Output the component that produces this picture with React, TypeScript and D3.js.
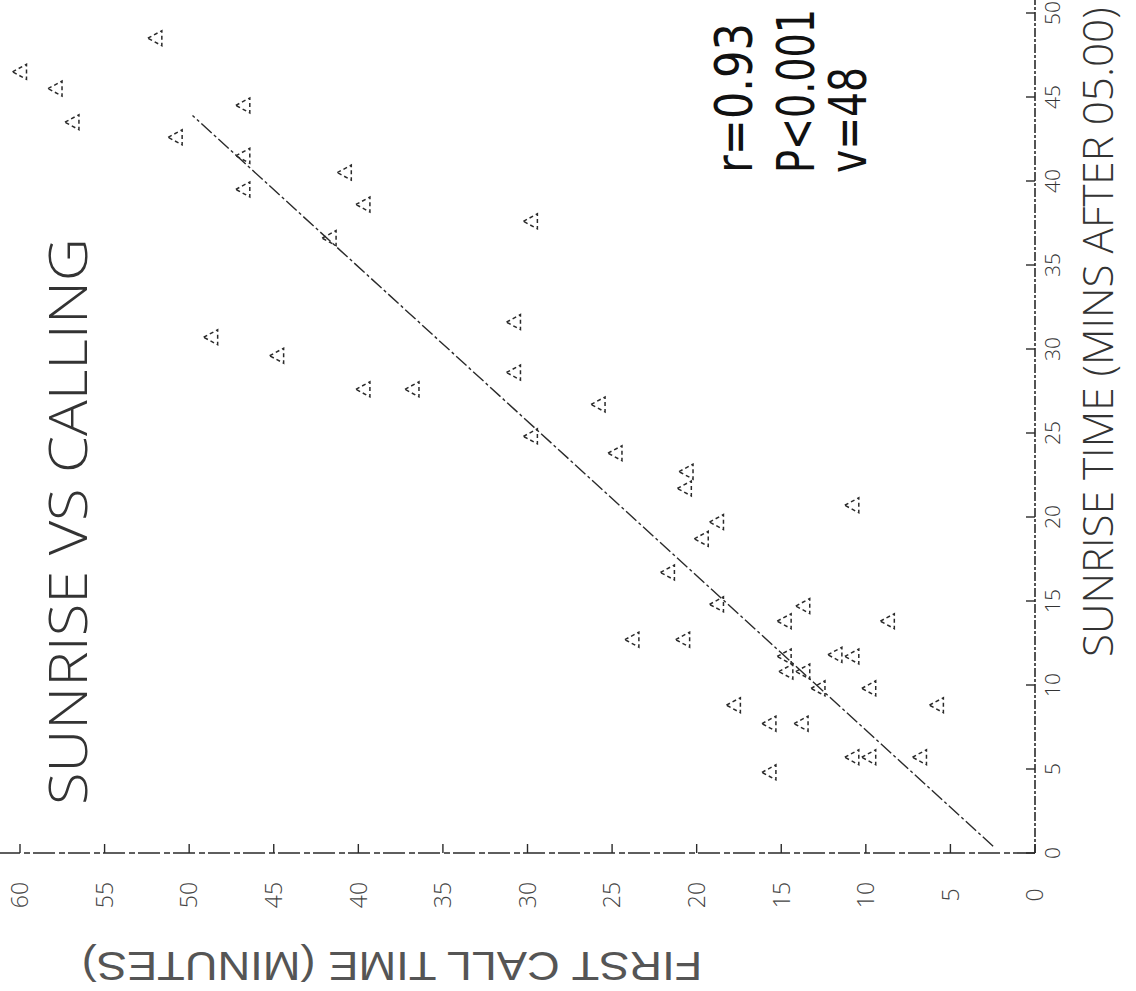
import React, { useLayoutEffect, useRef, useState } from 'react';
import * as d3 from 'd3';

// Sunrise time (mins after 05.00) and first call time (minutes)
const sunriseMins = [48.5, 46.5, 45.5, 43.5, 44.5, 42.6, 41.5, 39.5, 40.5, 38.6, 36.6, 37.6, 31.6, 28.6, 27.6, 27.6, 26.7, 24.8, 23.8, 30.7, 29.6, 22.7, 20.7, 21.7, 19.7, 18.7, 16.7, 14.8, 14.7, 13.8, 13.8, 12.7, 12.7, 11.7, 11.8, 11.7, 10.8, 10.8, 9.8, 9.8, 8.8, 7.7, 7.7, 5.7, 5.7, 5.7, 8.8, 4.8];
const firstCallMins = [52.0, 60.0, 57.9, 56.9, 46.8, 50.8, 46.8, 46.8, 40.8, 39.7, 41.7, 29.8, 30.8, 30.8, 39.7, 36.8, 25.8, 29.8, 24.8, 48.7, 44.8, 20.6, 10.8, 20.7, 18.8, 19.7, 21.7, 18.8, 13.7, 14.8, 8.7, 23.8, 20.8, 14.8, 11.8, 10.8, 14.7, 13.7, 12.8, 9.8, 17.8, 15.7, 13.8, 10.8, 9.8, 6.8, 5.8, 15.7];

const xTicks = [0, 5, 10, 15, 20, 25, 30, 35, 40, 45, 50];
const yTicks = [0, 5, 10, 15, 20, 25, 30, 35, 40, 45, 50, 55, 60];

const fitIntercept = 2.04;
const fitSlope = 1.088;
const fitXRange = [0.4, 43.9];

const chartTitle = 'SUNRISE VS CALLING';
const xTitle = 'SUNRISE TIME (MINS AFTER 05.00)';
const yTitle = 'FIRST CALL TIME (MINUTES)';
const statLines = ['r=0.93', 'P<0.001', 'v=48'];
const statLengths = [150, 164, 106];
const statBaselines = [752, 814, 866];

type FitProps = {
  x: number;
  y: number;
  len: number;
  anchor?: 'start' | 'middle' | 'end';
  rotate?: number;
  children: string;
  [key: string]: any;
};

function FitText({ x, y, len, anchor = 'start', rotate = 0, children, ...rest }: FitProps) {
  const ref = useRef<SVGTextElement>(null);
  const [k, setK] = useState(1);
  useLayoutEffect(() => {
    if (ref.current) {
      const n = ref.current.getComputedTextLength();
      if (n > 0) setK(len / n);
    }
  }, [len, children]);
  return (
    <g transform={`translate(${x},${y}) rotate(${rotate}) scale(${k},1)`}>
      <text ref={ref} x={0} y={0} textAnchor={anchor} {...rest}>
        {children}
      </text>
    </g>
  );
}

export default function App() {
  const W = 1136;
  const H = 991;
  // original (unrotated) frame: ox horizontal 0..H, oy vertical 0..W
  const x = d3.scaleLinear().domain([0, 50]).range([138, 978]);
  const y = d3.scaleLinear().domain([0, 60]).range([1035, 20]);

  const pts = sunriseMins.map((s, i) => ({ s, c: firstCallMins[i] }));
  const fitLine = d3
    .line<number>()
    .x((d) => x(d))
    .y((d) => y(fitIntercept + fitSlope * d))(fitXRange);

  const tri = (cx: number, cy: number) =>
    `M${cx},${cy - 7.5} L${cx + 7.5},${cy + 6.5} L${cx - 7.5},${cy + 6.5} Z`;

  const ink = '#2a2a2a';
  const font = "'Open Sans', 'DejaVu Sans', sans-serif";

  return (
    <svg
      width={W}
      height={H}
      style={{ position: 'absolute', left: 0, top: 0, background: '#fff' }}
    >
      <rect width={W} height={H} fill="#fff" />
      <g transform={`translate(0,${H}) rotate(-90)`}>
        {/* axes */}
        <line
          x1={x(0)}
          x2={H + 5}
          y1={y(0)}
          y2={y(0)}
          stroke={ink}
          strokeWidth={1.6}
          strokeDasharray="9 2 3 2"
        />
        <line
          x1={x(0)}
          x2={x(0)}
          y1={y(0)}
          y2={-5}
          stroke={ink}
          strokeWidth={1.6}
          strokeDasharray="22 3 6 4"
        />
        {xTicks.map((t) => (
          <g key={'xt' + t}>
            <line x1={x(t)} x2={x(t)} y1={y(0)} y2={y(0) - 9} stroke={ink} strokeWidth={1.4} />
            <text
              x={x(t)}
              y={1060}
              textAnchor="middle"
              fontFamily={font}
              fontWeight={300}
              fontSize={21}
              fill="#333"
            >
              {t}
            </text>
          </g>
        ))}
        {yTicks.map((t) => (
          <g key={'yt' + t}>
            <line x1={x(0)} x2={x(0) + 9} y1={y(t)} y2={y(t)} stroke={ink} strokeWidth={1.4} />
            <text
              x={96}
              y={y(t)}
              dy="0.36em"
              textAnchor="middle"
              fontFamily={font}
              fontWeight={300}
              fontSize={23}
              fill="#444"
            >
              {t}
            </text>
          </g>
        ))}

        {/* regression line */}
        <path d={fitLine || ''} fill="none" stroke={ink} strokeWidth={1.4} strokeDasharray="14 3 3 3" />

        {/* points */}
        {pts.map((p, i) => (
          <path
            key={'p' + i}
            d={tri(x(p.s), y(p.c))}
            fill="none"
            stroke={ink}
            strokeWidth={1.5}
            strokeDasharray="4 3"
          />
        ))}

        {/* titles */}
        <FitText x={186} y={87} len={567} fontFamily={font} fontWeight={300} fontSize={54} fill="#333">
          {chartTitle}
        </FitText>
        <FitText x={334} y={1113} len={650} fontFamily={font} fontWeight={300} fontSize={42} fill="#333">
          {xTitle}
        </FitText>
        <FitText
          x={39}
          y={392}
          rotate={-90}
          anchor="middle"
          len={621}
          fontFamily="'Liberation Sans', Arial, sans-serif"
          fontSize={41}
          fill="#555"
        >
          {yTitle}
        </FitText>

        {/* statistics */}
        {statLines.map((s, i) => (
          <FitText
            key={'s' + i}
            x={818}
            y={statBaselines[i]}
            len={statLengths[i]}
            fontFamily="'DejaVu Sans', sans-serif"
            fontSize={52}
            fill="#111"
          >
            {s}
          </FitText>
        ))}
      </g>
    </svg>
  );
}
